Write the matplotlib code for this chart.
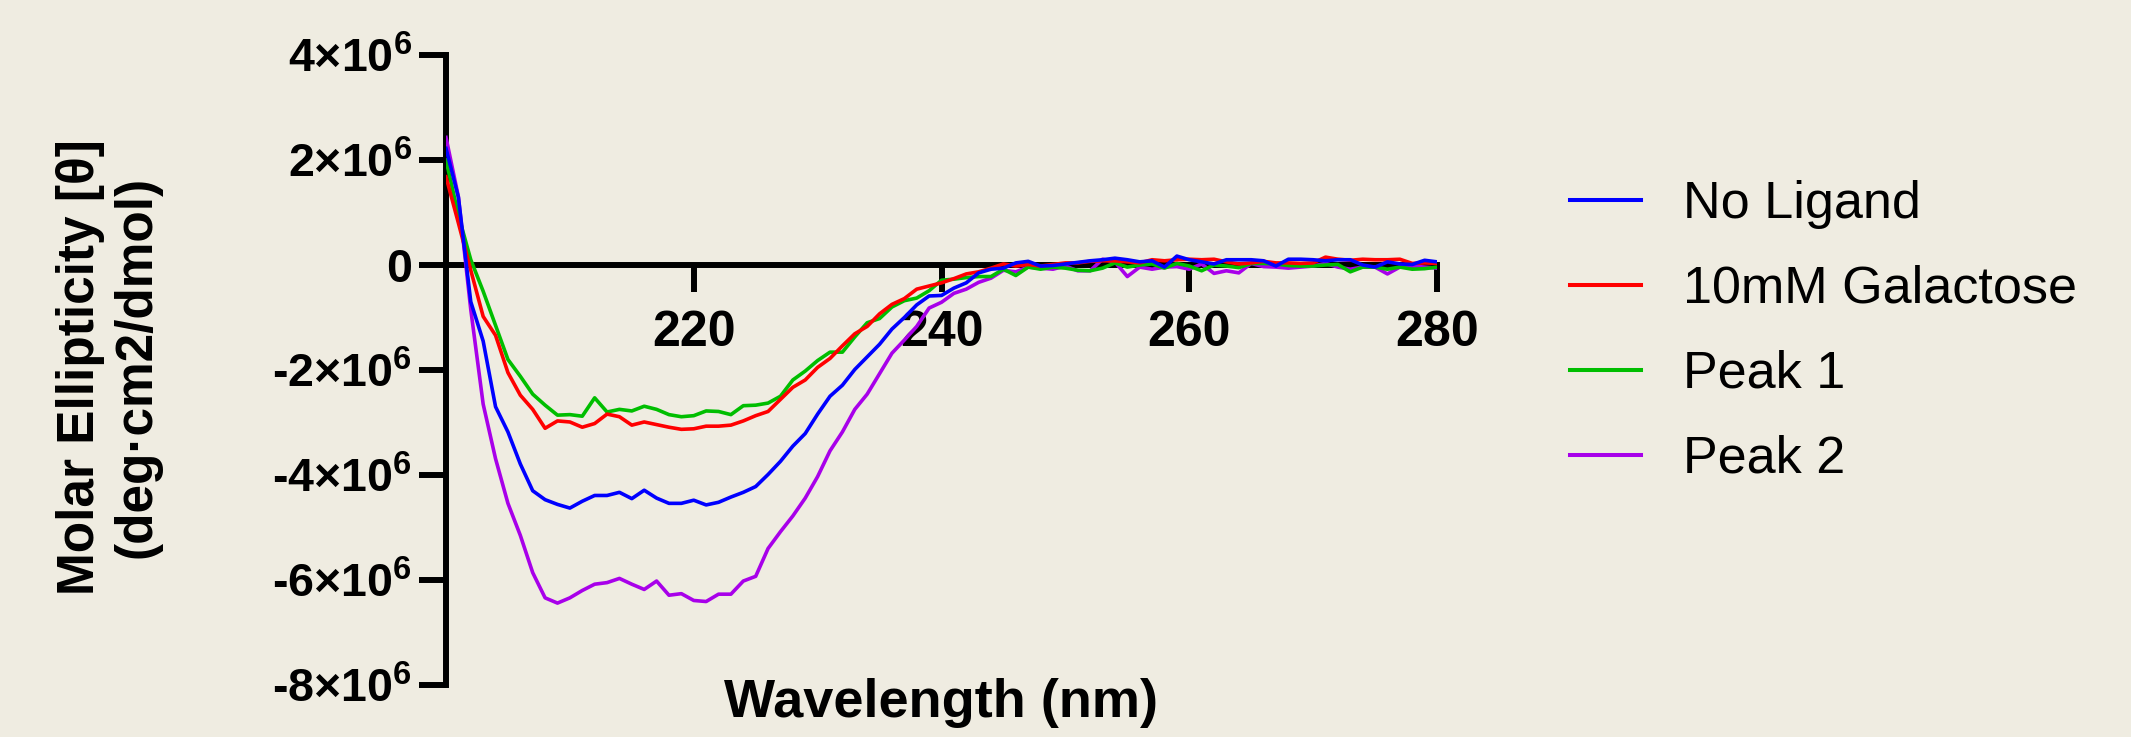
import numpy as np
import matplotlib
matplotlib.use("Agg")
import matplotlib.pyplot as plt
from matplotlib.lines import Line2D

plt.rcParams['font.family'] = ['Liberation Sans', 'DejaVu Sans']
plt.rcParams['mathtext.fontset'] = 'custom'
plt.rcParams['mathtext.rm'] = 'Liberation Sans:bold'
plt.rcParams['mathtext.bf'] = 'Liberation Sans:bold'
plt.rcParams['mathtext.default'] = 'bf'

# ---------------- data (units of 1e6 deg·cm2/dmol) ----------------
wavelength = list(range(200, 281))

no_ligand = [
    2.22, 1.29, -0.70, -1.45, -2.70, -3.18, -3.79, -4.30, -4.47, -4.56,
    -4.63, -4.50, -4.39, -4.39, -4.33, -4.45, -4.29, -4.44, -4.54, -4.54,
    -4.48, -4.57, -4.52, -4.42, -4.33, -4.22, -3.99, -3.74, -3.45, -3.21,
    -2.84, -2.50, -2.29, -1.99, -1.75, -1.51, -1.22, -1.00, -0.76, -0.59,
    -0.58, -0.44, -0.34, -0.15, -0.08, -0.06, 0.04, 0.07, -0.02, -0.01,
    0.02, 0.05, 0.08, 0.10, 0.13, 0.10, 0.06, 0.08, -0.04, 0.17,
    0.10, 0.06, 0.02, 0.10, 0.10, 0.10, 0.08, -0.02, 0.11, 0.11,
    0.10, 0.08, 0.10, 0.10, 0.00, -0.04, 0.06, 0.02, 0.01, 0.09,
    0.06]

galactose = [
    1.68, 0.80, -0.10, -0.98, -1.34, -2.05, -2.48, -2.75, -3.11, -2.97,
    -2.99, -3.09, -3.02, -2.84, -2.89, -3.05, -2.99, -3.04, -3.09, -3.13,
    -3.12, -3.07, -3.07, -3.05, -2.97, -2.87, -2.79, -2.56, -2.33, -2.19,
    -1.95, -1.78, -1.54, -1.31, -1.17, -0.93, -0.75, -0.64, -0.46, -0.40,
    -0.34, -0.26, -0.17, -0.13, -0.06, 0.02, -0.02, 0.01, -0.02, 0.01,
    0.04, 0.04, 0.07, 0.08, 0.08, 0.06, 0.04, 0.10, 0.08, 0.10,
    0.11, 0.10, 0.11, 0.06, 0.02, 0.04, 0.07, 0.04, 0.04, 0.03,
    0.04, 0.15, 0.11, 0.09, 0.11, 0.10, 0.10, 0.11, 0.03, 0.04,
    0.03]

peak1 = [
    2.00, 0.95, 0.10, -0.50, -1.15, -1.80, -2.12, -2.46, -2.67, -2.86,
    -2.85, -2.88, -2.53, -2.80, -2.75, -2.78, -2.69, -2.75, -2.85, -2.89,
    -2.87, -2.78, -2.79, -2.85, -2.68, -2.67, -2.63, -2.50, -2.19, -2.02,
    -1.82, -1.66, -1.66, -1.37, -1.10, -1.02, -0.80, -0.68, -0.63, -0.49,
    -0.29, -0.27, -0.24, -0.22, -0.22, -0.08, -0.20, -0.04, -0.08, -0.04,
    -0.06, -0.10, -0.11, -0.06, 0.04, -0.04, 0.00, 0.02, -0.06, 0.03,
    -0.02, -0.11, 0.00, -0.02, -0.05, 0.03, 0.03, 0.02, -0.01, -0.02,
    -0.02, 0.00, 0.01, -0.13, -0.04, -0.04, -0.08, -0.04, -0.08, -0.07,
    -0.04]

peak2 = [
    2.43, 1.30, -0.85, -2.65, -3.69, -4.54, -5.15, -5.86, -6.34, -6.44,
    -6.34, -6.20, -6.08, -6.05, -5.97, -6.08, -6.18, -6.02, -6.29, -6.26,
    -6.39, -6.41, -6.27, -6.27, -6.02, -5.93, -5.40, -5.08, -4.78, -4.44,
    -4.03, -3.54, -3.18, -2.75, -2.46, -2.07, -1.68, -1.43, -1.17, -0.82,
    -0.71, -0.54, -0.46, -0.33, -0.25, -0.10, -0.13, -0.04, -0.06, -0.08,
    -0.02, -0.11, -0.11, 0.11, 0.06, -0.22, -0.04, -0.08, -0.04, -0.03,
    -0.08, 0.02, -0.16, -0.11, -0.15, 0.03, -0.03, -0.04, -0.06, -0.04,
    -0.02, 0.03, -0.04, -0.08, -0.04, -0.04, -0.17, -0.04, -0.02, -0.04,
    -0.06]

series_names = ['No Ligand', '10mM Galactose', 'Peak 1', 'Peak 2']
series_values = [no_ligand, galactose, peak1, peak2]
series_colors = ['#0000FF', '#FF0000', '#00BE00', '#A800EA']

xticks = [220, 240, 260, 280]
xtick_labels = ['220', '240', '260', '280']
yticks = [4e6, 2e6, 0, -2e6, -4e6, -6e6, -8e6]
ytick_labels = ['4×10$^{6}$', '2×10$^{6}$', '0', '-2×10$^{6}$',
                '-4×10$^{6}$', '-6×10$^{6}$', '-8×10$^{6}$']

# ---------------- figure ----------------
bg = '#EFECE1'
W, H = 2131, 737
fig = plt.figure(figsize=(W / 100, H / 100), dpi=100, facecolor=bg)
ax = fig.add_axes([446 / W, 1 - 685 / H, (1437 - 446) / W, (685 - 55) / H])
ax.set_facecolor(bg)

scale = 1e6
handles = []
# draw order: purple bottom, blue on top
for idx in [3, 2, 1, 0]:
    vals = np.array(series_values[idx]) * scale
    ax.plot(wavelength, vals, color=series_colors[idx], lw=2.6, zorder=3 + (3 - idx) * 0.1)
for name, col in zip(series_names, series_colors):
    handles.append(Line2D([0], [0], color=col, lw=2.9, label=name))

ax.set_xlim(200, 280)
ax.set_ylim(-8e6, 4e6)

for s in ['top', 'right']:
    ax.spines[s].set_visible(False)
ax.spines['bottom'].set_position(('data', 0))
for s in ['left', 'bottom']:
    ax.spines[s].set_linewidth(4.3)
    ax.spines[s].set_color('black')

ax.set_xticks(xticks, labels=xtick_labels, fontsize=36, fontweight='bold')
ax.set_yticks(yticks, labels=ytick_labels, fontsize=33.5, fontweight='bold')
ax.tick_params(axis='x', length=19.5, width=4.3, pad=13, direction='out')
ax.tick_params(axis='y', length=19.5, width=4.3, pad=5, direction='out')

fig.text(108.5 / W, 1 - 367 / H, 'Molar Ellipticity [θ]\n(deg·cm2/dmol)',
         rotation=90, ha='center', va='center', multialignment='center',
         fontsize=37, fontweight='bold', linespacing=1.2)
fig.text(941.5 / W, 1 - 717 / H, 'Wavelength (nm)', ha='center', va='baseline',
         fontsize=39, fontweight='bold')

leg = fig.legend(handles=handles, loc='upper left', bbox_to_anchor=(1570 / W, 1 - 180 / H),
                 frameon=False, fontsize=37.5, handlelength=1.37, handletextpad=0.8,
                 labelspacing=0.69, borderpad=0, borderaxespad=0)

fig.savefig('out.png', dpi=100, facecolor=bg)
